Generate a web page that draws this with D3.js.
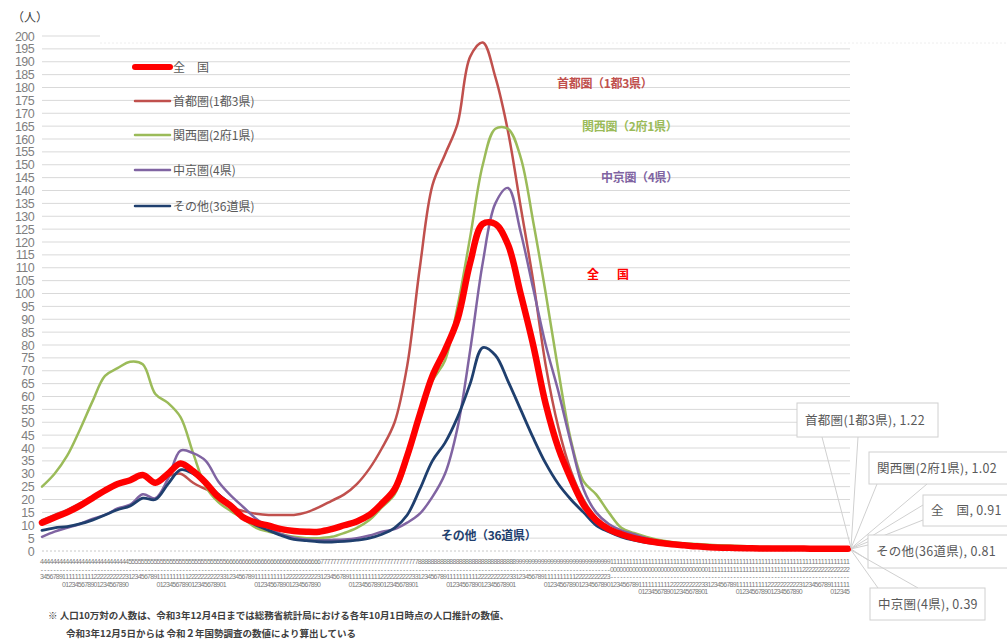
<!DOCTYPE html>
<html>
<head>
<meta charset="utf-8">
<script src="https://cdn.jsdelivr.net/npm/d3@7"></script>
<style>
  body { margin: 0; background: #fff; }
  svg { display: block; font-family: "Liberation Sans", "Noto Sans CJK JP", sans-serif; }
</style>
</head>
<body>
<svg id="chart" width="1007" height="640"></svg>
<script>
// days on the x axis (daily), series read every 4th day
const startDate = "2021-04-03";
const dayCount = 257;
const step = 4;

const seriesNames = ["首都圏(1都3県)", "関西圏(2府1県)", "中京圏(4県)", "その他(36道県)", "全　国"];
const seriesColors = ["#c0504d", "#9bbb59", "#8064a2", "#1f3f6e", "#ff0000"];

const shutoken = [12, 14, 16, 18.5, 21, 24, 26, 27.5, 29, 26.5, 29, 30, 26.5, 24, 22, 17, 15.5, 14.5, 14, 14,
  14, 15, 17, 19.5, 22, 26, 32, 40, 50, 72, 110, 142, 154, 166, 192, 197.5, 184, 163, 134, 105,
  72, 48, 31, 20, 13, 9, 6.5, 5, 3.8, 3, 2.5, 2.1, 1.8, 1.6, 1.5, 1.4, 1.35, 1.3, 1.3, 1.25,
  1.25, 1.25, 1.22, 1.22, 1.22];
const kansai = [25, 30, 37, 47, 58, 68, 71, 73.5, 72.5, 61, 57.5, 52, 38, 25, 19, 15.5, 12.5, 9, 7.5, 6.5,
  5.5, 5, 5, 5.5, 7, 9, 12, 17, 22, 35, 52, 66, 74, 95, 122, 150, 164, 164, 153, 128,
  100, 70, 43, 27, 22, 15, 9, 7, 5.5, 4.3, 3.5, 3, 2.7, 2.4, 2.2, 2, 1.8, 1.6, 1.5, 1.4,
  1.3, 1.2, 1.1, 1.05, 1.02];
const chukyo = [5.5, 7.5, 9, 10.5, 12.5, 14, 16.5, 18, 22, 20.5, 28, 39, 38, 35, 27, 21.5, 17, 12.5, 9, 6.5,
  5.2, 4.5, 4.2, 4.3, 4.5, 5, 6, 7.5, 8.5, 11, 14.5, 21, 30, 48, 78, 112, 135, 141, 124, 102,
  80, 62, 42, 24, 15, 10.5, 8, 6.5, 5, 3.8, 3, 2.3, 1.8, 1.4, 1.1, 0.9, 0.8, 0.7, 0.6, 0.55,
  0.5, 0.45, 0.42, 0.4, 0.39];
const sonota = [8, 9, 9.5, 10.5, 12, 14, 16, 17.5, 20.5, 20, 26, 31.5, 30, 26.5, 22, 18, 13, 10, 8, 6,
  4.5, 4, 3.6, 3.5, 3.7, 4.2, 5, 6.5, 9, 14, 24, 35, 42, 52, 65, 79, 76, 66, 55, 44,
  34, 26, 20, 15, 10, 7.5, 5.5, 4.2, 3.3, 2.7, 2.2, 1.8, 1.5, 1.3, 1.1, 1, 0.95, 0.9, 0.88, 0.85,
  0.85, 0.83, 0.82, 0.81, 0.81];
const zenkoku = [11, 13, 15, 17.5, 20.5, 23.5, 26, 27.5, 29.5, 26.5, 30, 34, 31, 26.5, 21, 17.5, 13, 11, 9.8, 8.5,
  7.8, 7.5, 7.5, 8.5, 10, 11.5, 14, 18.5, 24, 37, 53, 68, 78, 90, 112, 127, 127, 119, 100, 80,
  57, 40, 28, 18, 12, 8.5, 6.5, 5, 4, 3.2, 2.6, 2.2, 1.8, 1.5, 1.3, 1.2, 1.1, 1, 1, 0.95,
  0.95, 0.92, 0.92, 0.91, 0.91];
const seriesValues = [shutoken, kansai, chukyo, sonota, zenkoku];

const yTicks = d3.range(0, 201, 5);
const footnotes = [
  "※ 人口10万対の人数は、令和3年12月4日までは総務省統計局における各年10月1日時点の人口推計の数値、",
  "令和3年12月5日からは 令和２年国勢調査の数値により算出している"
];

const svg = d3.select("#chart");
const x = d3.scaleLinear().domain([0, dayCount - 1]).range([42, 848]);
const y = d3.scaleLinear().domain([0, 200]).range([551, 36]);

// gridlines
svg.append("g")
  .selectAll("line")
  .data(yTicks.filter((d) => d > 0))
  .join("line")
  .attr("x1", 42)
  .attr("x2", (d) => (d === 200 ? 100 : 850))
  .attr("y1", (d) => y(d))
  .attr("y2", (d) => y(d))
  .attr("stroke", "#d9d9d9")
  .attr("stroke-width", 1);

svg.append("line")
  .attr("x1", 100).attr("x2", 1007).attr("y1", 43).attr("y2", 43)
  .attr("stroke", "#eeeeee").attr("stroke-dasharray", "2,2");

svg.append("line")
  .attr("x1", 42).attr("x2", 850).attr("y1", y(0)).attr("y2", y(0))
  .attr("stroke", "#c8c8c8").attr("stroke-dasharray", "2,2");

// y axis labels
const yAxis = svg.append("g")
  .attr("transform", "translate(34,0)")
  .call(d3.axisLeft(y).tickValues(yTicks).tickSize(0).tickPadding(0));
yAxis.select(".domain").remove();
yAxis.selectAll("text")
  .attr("fill", "#7f7f7f")
  .attr("font-size", 12.5)
  .attr("letter-spacing", -0.6)
  .attr("font-family", "Liberation Sans Narrow, Liberation Sans, sans-serif");

svg.append("text")
  .attr("x", 12).attr("y", 22)
  .attr("font-size", 12)
  .attr("fill", "#404040")
  .attr("font-family", "Noto Sans CJK JP")
  .text("（人）");

// x labels: dates stacked vertically
const day0 = new Date(startDate + "T00:00:00");
const dayLabels = d3.timeDay.range(day0, d3.timeDay.offset(day0, dayCount))
  .map((d) => `${d.getMonth() + 1}/${d.getDate()}`);
const xLab = svg.append("g").attr("fill", "#7a7a7a").attr("font-size", 7).attr("text-anchor", "middle");
dayLabels.forEach((lab, i) => {
  const t = xLab.append("text");
  lab.split("").forEach((ch, j) => {
    t.append("tspan")
      .attr("x", x(i))
      .attr("y", 564 + j * 7.5)
      .text(ch === "/" ? "‐" : ch);
  });
});

// series lines
const lineGen = d3.line()
  .x((d, i) => x(i * step))
  .y((d) => y(d))
  .curve(d3.curveCatmullRom.alpha(0.5));

const widths = [2.5, 2.5, 2.5, 2.8, 6.5];
svg.append("g")
  .selectAll("path")
  .data(seriesValues)
  .join("path")
  .attr("d", lineGen)
  .attr("fill", "none")
  .attr("stroke", (d, i) => seriesColors[i])
  .attr("stroke-width", (d, i) => widths[i])
  .attr("stroke-linejoin", "round")
  .attr("stroke-linecap", "round");

// legend
const legendOrder = [4, 0, 1, 2, 3];
const legendY = [67, 101, 135, 170, 206];
const legend = svg.append("g").attr("font-family", "Noto Sans CJK JP");
legendOrder.forEach((si, k) => {
  legend.append("line")
    .attr("x1", 135).attr("x2", 170)
    .attr("y1", legendY[k]).attr("y2", legendY[k])
    .attr("stroke", seriesColors[si])
    .attr("stroke-width", si === 4 ? 6 : 2.5)
    .attr("stroke-linecap", "round");
  legend.append("text")
    .attr("x", 173).attr("y", legendY[k] + 4.5)
    .attr("font-size", 12)
    .attr("fill", "#595959")
    .text(seriesNames[si]);
});

// coloured annotations
const annos = [
  { s: 0, text: "首都圏（1都3県）", x: 557, y: 88 },
  { s: 1, text: "関西圏（2府1県）", x: 582, y: 131 },
  { s: 2, text: "中京圏（4県）", x: 601, y: 182 },
  { s: 4, text: "全　国", x: 587, y: 279 },
  { s: 3, text: "その他（36道県）", x: 441, y: 540 }
];
svg.append("g")
  .selectAll("text")
  .data(annos)
  .join("text")
  .attr("x", (d) => d.x).attr("y", (d) => d.y)
  .attr("font-family", "Noto Sans CJK JP")
  .attr("font-weight", "bold")
  .attr("font-size", 12)
  .attr("fill", (d) => seriesColors[d.s])
  .attr("letter-spacing", (d) => (d.s === 4 ? 3 : -0.3))
  .text((d) => d.text);

// callouts at the last day
const callouts = [
  { s: 0, box: [797, 403, 141, 34], base: [[822, 437], [858, 437]] },
  { s: 1, box: [869, 452, 150, 32], base: [[877, 484], [927, 484]] },
  { s: 4, box: [923, 495, 95, 31], base: [[923, 505], [923, 520]] },
  { s: 3, box: [868, 535, 150, 33], base: [[868, 545], [868, 560]] },
  { s: 2, box: [870, 588, 115, 32], base: [[878, 588], [918, 588]] }
];
const last = dayCount - 1;
const fmt = d3.format(".2f");
const co = svg.append("g").attr("font-family", "Noto Sans CJK JP");
callouts.forEach((c) => {
  const vals = seriesValues[c.s];
  const v = vals[vals.length - 1];
  const px = x(last) + 3, py = y(v);
  co.append("path")
    .attr("d", `M${c.base[0][0]},${c.base[0][1]}L${px},${py}L${c.base[1][0]},${c.base[1][1]}`)
    .attr("fill", "none")
    .attr("stroke", "#d0d0d0")
    .attr("stroke-width", 1);
  co.append("rect")
    .attr("x", c.box[0]).attr("y", c.box[1])
    .attr("width", c.box[2]).attr("height", c.box[3])
    .attr("fill", "#fff")
    .attr("stroke", "#d0d0d0");
  co.append("text")
    .attr("x", c.box[0] + 8).attr("y", c.box[1] + c.box[3] / 2 + 4.5)
    .attr("font-size", 12.5)
    .attr("letter-spacing", 0.3)
    .attr("fill", "#595959")
    .text(`${seriesNames[c.s]}, ${fmt(v)}`);
});

// footnote
svg.append("g")
  .selectAll("text")
  .data(footnotes)
  .join("text")
  .attr("x", (d, i) => (i === 0 ? 48 : 66))
  .attr("y", (d, i) => 619 + i * 18)
  .attr("font-family", "Noto Sans CJK JP")
  .attr("font-size", 9.5)
  .attr("font-weight", "bold")
  .attr("fill", "#404040")
  .text((d) => d);
</script>
</body>
</html>
